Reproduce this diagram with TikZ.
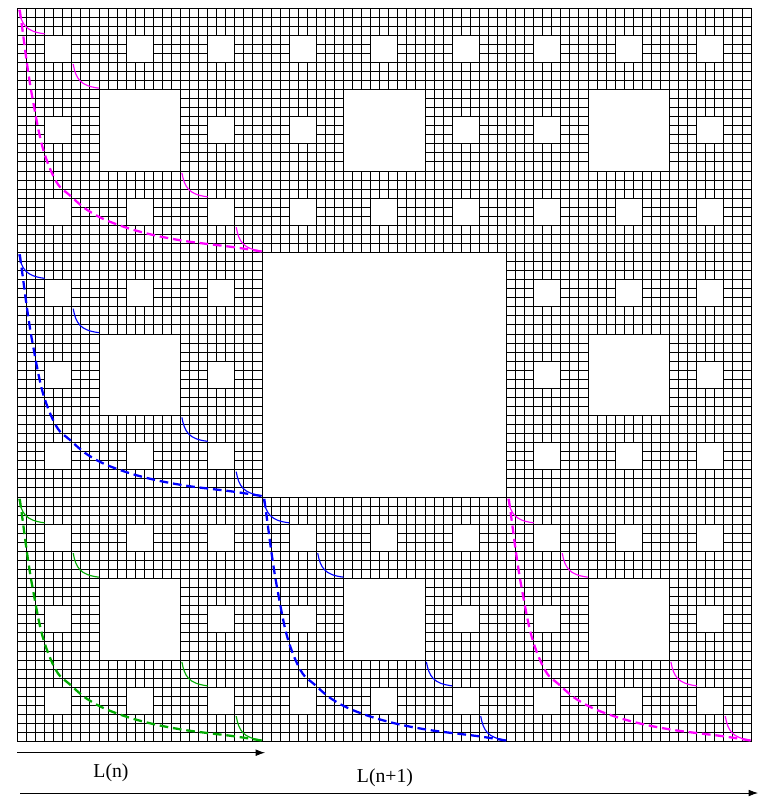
\documentclass[tikz,border=0pt]{standalone}
\usepackage{fontspec}
\setmainfont{Liberation Serif}
\usetikzlibrary{arrows.meta}
\definecolor{mag}{RGB}{255,0,255}
\definecolor{blu}{RGB}{0,0,255}
\definecolor{grn}{RGB}{0,170,0}
\begin{document}
\begin{tikzpicture}[x=0.75pt,y=-0.75pt,
  gridline/.style={black,line width=0.72pt},
  holebox/.style={fill=white,draw=black,line width=0.72pt},
  dcurve/.style={line width=1.7pt,dash pattern=on 6.5pt off 3.6pt},
  sarc/.style={line width=0.85pt},
  dimarrow/.style={-{Latex[length=7pt,width=5pt]},line width=0.6pt,black},
  lbl/.style={font=\fontsize{14.8}{17}\selectfont,anchor=base,inner sep=0pt}]
\useasboundingbox (0,0) rectangle (760,797);
\begin{scope}[shift={(17.5,8)},x=6.792pt,y=-6.792pt]
  % full grid
  \foreach \k in {0,...,81} {
    \draw[gridline] (\k,0) -- (\k,81);
    \draw[gridline] (0,\k) -- (81,\k);
  }
  % central hole
  \filldraw[holebox] (27,27) rectangle (54,54);
  % 9x9 holes
  \foreach \bi in {0,1,2} {
    \foreach \bj in {0,1,2} {
      \pgfmathtruncatemacro\skipit{(\bi==1 && \bj==1) ? 1 : 0}
      \ifnum\skipit=0
        \filldraw[holebox] (27*\bi+9,27*\bj+9) rectangle (27*\bi+18,27*\bj+18);
      \fi
    }
  }
  % 3x3 holes
  \foreach \i in {0,...,8} {
    \foreach \j in {0,...,8} {
      \pgfmathtruncatemacro\skipit{((mod(\i,3)==1 && mod(\j,3)==1) || (div(\i,3)==1 && div(\j,3)==1)) ? 1 : 0}
      \ifnum\skipit=0
        \filldraw[holebox] (9*\i+3,9*\j+3) rectangle (9*\i+6,9*\j+6);
      \fi
    }
  }
  % curves in five sub-blocks
  \foreach \bx/\by/\col in {0/0/mag, 0/27/blu, 0/54/grn, 27/54/blu, 54/54/mag} {
    \begin{scope}[shift={(\bx,\by)}]
      \draw[dcurve,\col] plot[smooth,tension=0.6] coordinates {
        (0.25,0.2) (0.6,2.8) (1.1,6.5) (1.7,10.2) (2.8,15.5) (4.3,19.2)
        (5.8,20.7) (7.7,22.3) (10.2,23.6) (13.9,24.8) (18.3,25.7) (23.8,26.4) (27,26.9)};
      \foreach \o in {0,6,18,24} {
        \draw[sarc,\col,shift={(\o,\o)}] (0.15,0.2) .. controls (0.45,1.8) and (0.9,2.6) .. (3,2.85);
      }
    \end{scope}
  }
\end{scope}
% dimension arrows
\coordinate (a1) at (17,752.7);
\coordinate (a2) at (265,752.7);
\coordinate (b1) at (20,793);
\coordinate (b2) at (758,793);
\draw[dimarrow] (a1) -- (a2);
\draw[dimarrow] (b1) -- (b2);
\node[lbl] (ln) at (111,777.3) {L(n)};
\node[lbl] (ln1) at (385,782.7) {L(n+1)};
\end{tikzpicture}
\end{document}
